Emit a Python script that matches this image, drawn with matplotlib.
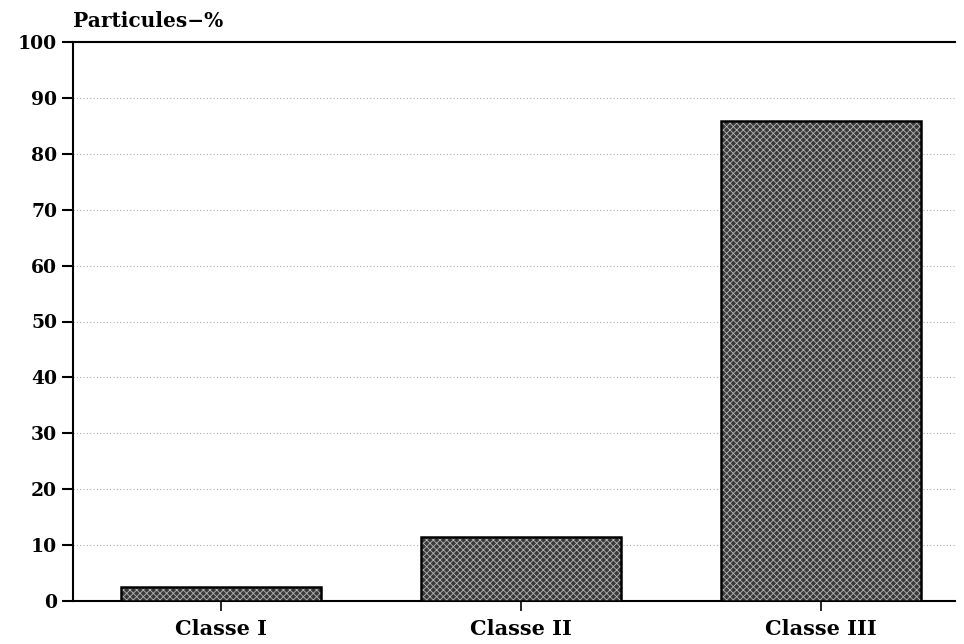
import numpy as np
import matplotlib.pyplot as plt

# donnees
classes = ['Classe I', 'Classe II', 'Classe III']
valeurs = [2.5, 11.4, 85.9]
yticks = [0, 10, 20, 30, 40, 50, 60, 70, 80, 90, 100]

plt.rcParams['font.family'] = ['DejaVu Serif']
plt.rcParams['font.weight'] = 'bold'
plt.rcParams['hatch.linewidth'] = 0.6

fig = plt.figure(figsize=(9.64, 6.44), dpi=100)
ax = fig.add_axes([73/964, 1 - 601/644, (955-73)/964, (601-42)/644])

x = np.arange(len(classes))
# remplissage trame
ax.bar(x, valeurs, width=0.667, color='#3a3a3a', edgecolor='#b4b4b4',
       hatch='xxxxx', linewidth=0, zorder=3)
ax.bar(x, valeurs, width=0.667, color='none', edgecolor='black',
       linewidth=1.8, zorder=4)

ax.set_xlim(-0.493, 2.447)
ax.set_ylim(0, 100)
ax.set_yticks(yticks)
ax.set_xticks(x)
ax.set_xticklabels(classes, fontsize=15, fontweight='bold')
ax.tick_params(axis='y', labelsize=13.5, length=8, width=1.5, direction='out')
ax.tick_params(axis='x', length=7, width=1.2, direction='out', pad=6)
for lbl in ax.get_yticklabels():
    lbl.set_fontweight('bold')

ax.yaxis.grid(True, linestyle=(0, (1, 2)), color='#aaaaaa', linewidth=0.8, zorder=0)
ax.set_axisbelow(True)

ax.spines['right'].set_visible(False)
ax.spines['top'].set_linewidth(1.5)
ax.spines['left'].set_linewidth(1.5)
ax.spines['bottom'].set_linewidth(1.5)

fig.text(73/964, 1 - 21/644, 'Particules\u2212%', fontsize=14.5, fontweight='bold',
         ha='left', va='center')

fig.savefig('out.png', dpi=100)
